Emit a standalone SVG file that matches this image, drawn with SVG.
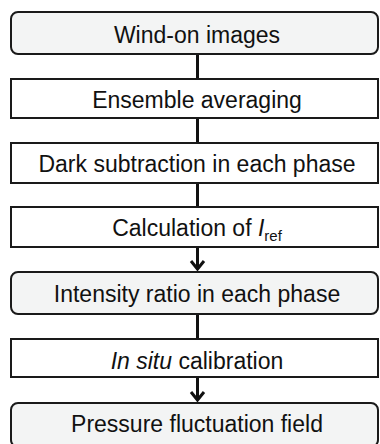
<svg xmlns="http://www.w3.org/2000/svg" width="380" height="444" viewBox="0 0 380 444">
<style>
.box{stroke:#1a1a1a;stroke-width:2;}
.g{fill:#f3f4f4;}
.w{fill:#ffffff;}
text{font-family:"Liberation Sans",Arial,sans-serif;font-size:23px;fill:#111;text-anchor:middle;}
.c{stroke:#111;stroke-width:3;fill:none;}
</style>
<rect width="380" height="444" fill="#ffffff"/>
<g id="connectors">
<line class="c" x1="197.5" y1="54" x2="197.5" y2="79"/>
<line class="c" x1="197.5" y1="118" x2="197.5" y2="143"/>
<line class="c" x1="197.5" y1="183" x2="197.5" y2="207"/>
<line class="c" x1="197.5" y1="247" x2="197.5" y2="269"/>
<polyline class="c" points="191,261 197.5,269 204,261"/>
<line class="c" x1="197.5" y1="314" x2="197.5" y2="339"/>
<line class="c" x1="197.5" y1="377" x2="197.5" y2="400"/>
<polyline class="c" points="191,392 197.5,400 204,392"/>
</g>
<g id="n1"><rect class="box g" x="11" y="12" width="367" height="42" rx="7"/><text x="197" y="42.5">Wind-on images</text></g>
<g id="n2"><rect class="box w" x="11" y="79" width="367" height="39"/><text x="197" y="107.5">Ensemble averaging</text></g>
<g id="n3"><rect class="box w" x="11" y="143" width="367" height="40"/><text x="197" y="172">Dark subtraction in each phase</text></g>
<g id="n4"><rect class="box w" x="11" y="207" width="367" height="40"/><text x="197" y="236">Calculation of <tspan font-style="italic">I</tspan><tspan font-size="15" dy="5">ref</tspan></text></g>
<g id="n5"><rect class="box g" x="11" y="272" width="367" height="42" rx="7"/><text x="197" y="301.5">Intensity ratio in each phase</text></g>
<g id="n6"><rect class="box w" x="11" y="339" width="367" height="38"/><text x="197" y="368.5"><tspan font-style="italic">In situ</tspan> calibration</text></g>
<g id="n7"><rect class="box g" x="11" y="403" width="367" height="44" rx="7"/><text x="197" y="431.5">Pressure fluctuation field</text></g>
</svg>
